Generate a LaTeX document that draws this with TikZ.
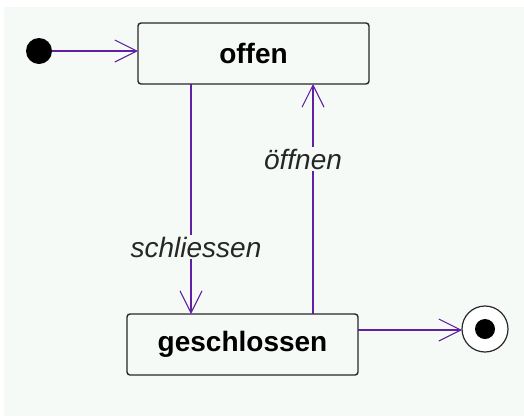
\documentclass[tikz,border=0pt]{standalone}
\usepackage{fontspec}
\setmainfont{Liberation Sans}
\usetikzlibrary{arrows.meta}
\definecolor{canvas}{RGB}{245,250,247}
\definecolor{flow}{RGB}{96,32,164}
\definecolor{frame}{RGB}{40,40,40}
\tikzset{
  statebox/.style={draw=frame, line width=1.4pt, rounded corners=3pt, fill=canvas,
    inner sep=0pt, font=\bfseries\fontsize{28}{30}\selectfont},
  trans/.style={draw=flow, line width=1.3pt,
    -{Straight Barb[length=22pt,width=22pt,line width=1.1pt]}},
  trlabel/.style={fill=canvas, inner sep=2pt, font=\itshape\fontsize{28}{30}\selectfont, text=black!85},
}
\begin{document}
\begin{tikzpicture}[x=1pt,y=-1pt]
  \useasboundingbox (0,0) rectangle (524,416);
  \fill[canvas] (4,7) rectangle (524,416);

  % states
  \node[statebox, minimum width=231pt, minimum height=61pt] (offen) at (253.5,53.5) {offen};
  \node[statebox, minimum width=231pt, minimum height=61pt] (geschl) at (242.5,344.5) {geschlossen};

  % pseudo states
  \node[circle, fill=black, minimum size=26pt, inner sep=0pt] (init) at (39,51) {};
  \node[circle, draw=frame, line width=1.2pt, fill=white, minimum size=46pt, inner sep=0pt] (final) at (485,329) {};
  \fill[black] (final.center) circle (10pt);

  % anchor points on the state borders
  \coordinate (offS1) at (191,84);
  \coordinate (offS2) at (313,84);
  \coordinate (geN1) at (191,314);
  \coordinate (geN2) at (313,314);
  \coordinate (offW) at (138,51);
  \coordinate (geE) at (358,330);
  \coordinate (finW) at (462,330);

  % transitions
  \draw[trans] (init.east |- offW) -- (offW);
  \draw[trans] (offS1) -- (geN1);
  \draw[trans] (geN2) -- (offS2);
  \draw[trans] (geE) -- (finW);

  % transition labels
  \node[trlabel] (lschl) at (196,247) {schliessen};
  \node[trlabel] (loeff) at (303,159) {öffnen};
\end{tikzpicture}
\end{document}
